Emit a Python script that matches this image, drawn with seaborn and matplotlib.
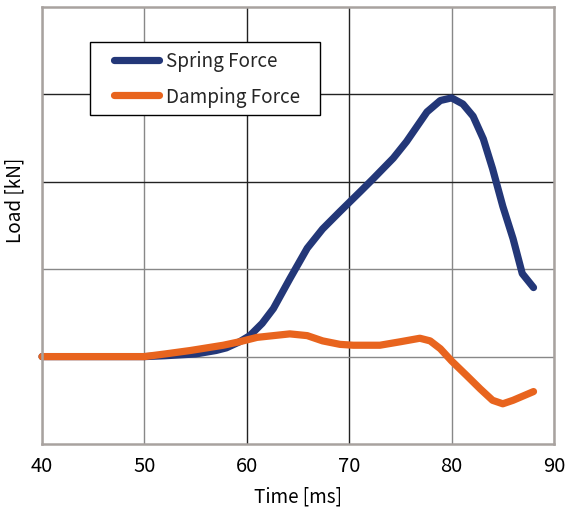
import matplotlib
matplotlib.use("Agg")
import matplotlib.pyplot as plt
from matplotlib.lines import Line2D
from matplotlib.legend_handler import HandlerLine2D
import seaborn as sns
import pandas as pd

# Spring force trace (time in ms, load in kN)
spring_time = [40, 45, 50, 52, 55, 57, 58, 59.3, 60.3, 61.5, 62.6, 64.2, 65.9, 67.4,
               69.1, 71.1, 72.3, 74.3, 75.6, 77.6, 78.9, 80.0, 81.1, 82.1, 83.1,
               84.0, 85.0, 86.0, 86.9, 88.0]
spring_load = [0, 0, 0, 0.01, 0.03, 0.07, 0.10, 0.17, 0.24, 0.38, 0.55, 0.89, 1.24, 1.46,
               1.66, 1.89, 2.03, 2.27, 2.46, 2.80, 2.93, 2.96, 2.89, 2.75, 2.49,
               2.15, 1.72, 1.35, 0.95, 0.79]

# Damping force trace
damping_time = [40, 45, 50, 52, 54.5, 57.7, 59.3, 61.0, 62.6, 64.2, 65.9, 67.4, 69.1,
                70.4, 73.0, 75.0, 76.9, 77.9, 78.9, 80.0, 81.5, 82.8, 84.0, 85.0,
                86.0, 87.0, 88.0]
damping_load = [0, 0, 0, 0.03, 0.07, 0.13, 0.17, 0.22, 0.24, 0.26, 0.24, 0.18, 0.14,
                0.13, 0.13, 0.17, 0.21, 0.18, 0.09, -0.05, -0.22, -0.37, -0.50, -0.54,
                -0.50, -0.45, -0.40]

series_names = ["Spring Force", "Damping Force"]
series_colors = ["#233778", "#e8641e"]
x_ticks = [40, 50, 60, 70, 80, 90]
y_grid = [0, 1, 2, 3]

df = pd.concat([
    pd.DataFrame({"time": spring_time, "load": spring_load, "series": series_names[0]}),
    pd.DataFrame({"time": damping_time, "load": damping_load, "series": series_names[1]}),
], ignore_index=True)

sns.set_theme(style="white")
plt.rcParams["font.family"] = ["Noto Sans CJK JP", "DejaVu Sans"]

fig = plt.figure(figsize=(5.65, 5.1), dpi=100)
ax = fig.add_axes([42 / 565, 1 - 445 / 510, (554 - 42) / 565, (445 - 8) / 510])

sns.lineplot(data=df, x="time", y="load", hue="series", hue_order=series_names,
             palette=series_colors, estimator=None, sort=False, linewidth=5.2,
             ax=ax, legend=False)
for line in ax.get_lines():
    line.set_solid_capstyle("round")
    line.set_solid_joinstyle("round")
    line.set_clip_on(False)

ax.set_xlim(40, 90)
ax.set_ylim(-1, 4)
ax.set_xticks(x_ticks)
ax.set_yticks(y_grid)
ax.set_yticklabels([])
ax.tick_params(axis="both", length=0, labelsize=14.5, pad=8, colors="black")

ax.grid(True, linewidth=1.0)
x_grid_colors = ["#888888", "#888888", "#222222", "#222222", "#888888", "#888888"]
for gl, c in zip(ax.xaxis.get_gridlines(), x_grid_colors):
    gl.set_color(c)
y_grid_colors = ["#888888", "#888888", "#222222", "#222222"]
for gl, c in zip(ax.yaxis.get_gridlines(), y_grid_colors):
    gl.set_color(c)
ax.set_axisbelow(True)

for sp in ax.spines.values():
    sp.set_color("#a8a29f")
    sp.set_linewidth(1.8)
    sp.set_visible(True)

ax.set_xlabel("Time [ms]", fontsize=13.6, labelpad=7, color="black")
ax.set_ylabel("Load [kN]", fontsize=13.6, color="black")
ax.yaxis.set_label_coords(-0.033, 0.56)


class InsetLineHandler(HandlerLine2D):
    """Legend line handle with extra room on its left side."""

    def __init__(self, inset, **kw):
        super().__init__(**kw)
        self.inset = inset

    def create_artists(self, legend, orig_handle, xdescent, ydescent, width,
                       height, fontsize, trans):
        artists = super().create_artists(legend, orig_handle, xdescent, ydescent,
                                         width, height, fontsize, trans)
        for a in artists:
            xd = list(a.get_xdata())
            yd = list(a.get_ydata())
            if len(xd) >= 2 and len(yd) == len(xd):
                a.set_data([xd[0] + self.inset, xd[-1]], [yd[0], yd[-1]])
        return artists


handles = [Line2D([], [], color=c, linewidth=5.2, solid_capstyle="round")
           for c in series_colors]
leg = ax.legend(handles, series_names, loc="upper left", mode="expand",
                bbox_to_anchor=((90 - 42) / 512, 0.6, (320 - 90) / 512,
                                1 - (43 - 8) / 437 - 0.6),
                fontsize=13.6, frameon=True, fancybox=False, framealpha=1,
                edgecolor="black", handlelength=3.2, handletextpad=0.35,
                borderpad=0.45, labelspacing=0.75, borderaxespad=0,
                handler_map={Line2D: InsetLineHandler(inset=11)})
leg.get_frame().set_linewidth(1.0)

fig.savefig("out.png", dpi=100)
